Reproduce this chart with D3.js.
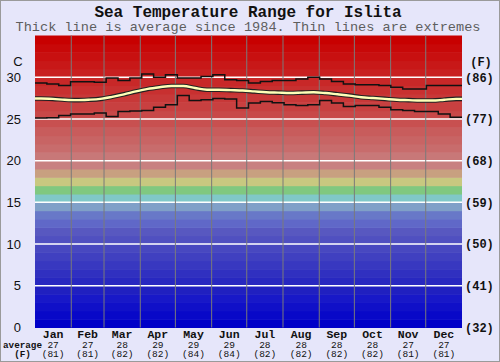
<!DOCTYPE html>
<html>
<head>
<meta charset="utf-8">
<script src="https://cdn.jsdelivr.net/npm/d3@7"></script>
<style>
  body { margin: 0; background: #e6e6fa; }
  svg { display: block; }
</style>
</head>
<body>
<div class="canvas"></div>
<script>
// chart values
const months = ["Jan", "Feb", "Mar", "Apr", "May", "Jun", "Jul", "Aug", "Sep", "Oct", "Nov", "Dec"];
const monthDays = [31, 28, 31, 30, 31, 30, 31, 31, 30, 31, 30, 31];
const avgC = ["27", "27", "28", "29", "29", "29", "28", "28", "28", "28", "27", "27"];
const avgF = ["(81)", "(81)", "(82)", "(82)", "(84)", "(84)", "(82)", "(82)", "(82)", "(82)", "(81)", "(81)"];

// three values per month (roughly 10 day periods), deg C
const maxTemp = [
    29.3, 29.2, 29.0, 29.45, 29.45, 29.4, 29.9, 29.6, 29.9, 30.4, 30.0, 30.3,
    29.9, 29.9, 30.1, 30.3, 29.7, 29.6, 29.3, 29.5, 29.6, 29.6, 29.8, 30.0,
    29.8, 29.5, 29.2, 29.1, 29.1, 29.0, 28.8, 28.6, 28.6, 29.0, 29.0, 29.0
];
const avgTemp = [
    27.45, 27.4, 27.3, 27.25, 27.3, 27.4, 27.65, 27.95, 28.3, 28.6, 28.8, 28.95,
    28.95, 28.7, 28.5, 28.5, 28.45, 28.4, 28.3, 28.2, 28.15, 28.1, 28.15, 28.2,
    28.1, 27.95, 27.8, 27.6, 27.5, 27.4, 27.3, 27.25, 27.2, 27.2, 27.3, 27.4
];
const minTemp = [
    25.1, 25.15, 25.4, 25.6, 25.6, 25.7, 25.3, 25.9, 25.95, 26.0, 26.4, 26.7,
    27.8, 27.2, 27.3, 27.45, 27.4, 26.3, 26.9, 27.1, 26.95, 26.7, 26.6, 26.7,
    27.2, 26.9, 26.5, 26.6, 26.6, 26.4, 26.1, 26.0, 25.9, 25.9, 25.6, 25.2
];

const celsiusTicks = [0, 5, 10, 15, 20, 25, 30];
const fahrenheitTicks = ["(32)", "(41)", "(50)", "(59)", "(68)", "(77)", "(86)"];

// one colour per degree band, bottom (0 C) to top (35 C)
const bandColors = [
    "#0000c8", "#0808c8", "#1010c8", "#1818c8", "#2020c0", "#2828c0", "#3030c0",
    "#3838c0", "#4040c0", "#4848c0", "#5050c0", "#5858c0", "#6068c8", "#6878c8",
    "#80a0c8", "#80c8c8", "#80c880", "#c8c880", "#c8a080", "#c88080", "#c87878",
    "#c86c6c", "#c86464", "#c85c5c", "#c85050", "#c84848", "#c84040", "#c83838",
    "#c83030", "#c82828", "#c82020", "#c81818", "#c81010", "#c80808", "#c80000"
];

const dims = { width: 500, height: 362 };
const plot = { left: 35, right: 462, top: 35.5, bottom: 327.5 };
const mono = "'Liberation Mono', 'Courier New', monospace";
const sans = "'Liberation Sans', Arial, sans-serif";

const svg = d3
    .select(".canvas")
    .append("svg")
    .attr("width", dims.width)
    .attr("height", dims.height);

svg.append("rect")
    .attr("x", 0.5).attr("y", 0.5)
    .attr("width", dims.width - 1).attr("height", dims.height - 1)
    .attr("fill", "#e6e6fa")
    .attr("stroke", "#9a9a9a");

const x = d3.scaleLinear().domain([0, 365]).range([plot.left, plot.right]);
const y = d3.scaleLinear().domain([0, 35]).range([plot.bottom, plot.top]);

// colour bands
svg.append("g")
    .selectAll("rect")
    .data(bandColors)
    .join("rect")
    .attr("x", plot.left)
    .attr("width", plot.right - plot.left)
    .attr("y", (d, i) => y(i + 1))
    .attr("height", (d, i) => y(i) - y(i + 1) + 0.5)
    .attr("fill", (d) => d);

// white gridlines every 5 C
svg.append("g")
    .selectAll("line")
    .data(celsiusTicks.slice(1))
    .join("line")
    .attr("x1", plot.left).attr("x2", plot.right)
    .attr("y1", (d) => y(d)).attr("y2", (d) => y(d))
    .attr("stroke", "#fff")
    .attr("stroke-width", 1.5);

// month separators
const monthStart = d3.cumsum([0, ...monthDays]);
svg.append("g")
    .selectAll("line")
    .data(monthStart.slice(1, 12))
    .join("line")
    .attr("x1", (d) => x(d)).attr("x2", (d) => x(d))
    .attr("y1", plot.top).attr("y2", plot.bottom)
    .attr("stroke", "#7a7a7a")
    .attr("stroke-width", 1);

// temperature lines
const step = 365 / maxTemp.length;
const stepLine = d3.line()
    .x((d) => x(d[0]))
    .y((d) => y(d[1]))
    .curve(d3.curveStepAfter);
const stepPoints = (arr) => [...arr.map((v, i) => [i * step, v]), [365, arr[arr.length - 1]]];

[maxTemp, minTemp].forEach((arr) => {
    svg.append("path")
        .attr("d", stepLine(stepPoints(arr)))
        .attr("fill", "none")
        .attr("stroke", "#111")
        .attr("stroke-width", 1.5);
});

const avgPoints = [[0, avgTemp[0]], ...avgTemp.map((v, i) => [(i + 0.5) * step, v]), [365, avgTemp[avgTemp.length - 1]]];
const smoothLine = d3.line()
    .x((d) => x(d[0]))
    .y((d) => y(d[1]))
    .curve(d3.curveMonotoneX);

svg.append("path")
    .attr("d", smoothLine(avgPoints))
    .attr("fill", "none")
    .attr("stroke", "#222")
    .attr("stroke-width", 4.6);
svg.append("path")
    .attr("d", smoothLine(avgPoints))
    .attr("fill", "none")
    .attr("stroke", "#ffffb8")
    .attr("stroke-width", 2.4);

// titles
svg.append("text")
    .attr("x", 248).attr("y", 17)
    .attr("text-anchor", "middle")
    .attr("font-family", mono)
    .attr("font-weight", "bold")
    .attr("font-size", 16)
    .attr("fill", "#111")
    .text("Sea Temperature Range for Islita");

svg.append("text")
    .attr("x", 248).attr("y", 30.5)
    .attr("text-anchor", "middle")
    .attr("font-family", mono)
    .attr("font-size", 13.6)
    .attr("fill", "#5e5e5e")
    .text("Thick line is average since 1984. Thin lines are extremes");

// left axis (C)
const leftAxis = d3.axisLeft(y).tickValues(celsiusTicks).tickSize(0).tickPadding(11);
const gl = svg.append("g").attr("transform", `translate(${plot.left - 3},0)`).call(leftAxis);
gl.select(".domain").remove();
gl.selectAll("text")
    .attr("font-family", sans)
    .attr("font-size", 13)
    .attr("fill", "#111");

svg.append("text")
    .attr("x", 18).attr("y", 66)
    .attr("text-anchor", "middle")
    .attr("font-family", sans)
    .attr("font-size", 13)
    .attr("fill", "#111")
    .text("C");

// right axis (F)
const rightAxis = d3.axisRight(y)
    .tickValues(celsiusTicks)
    .tickFormat((d, i) => fahrenheitTicks[i])
    .tickSize(0)
    .tickPadding(3);
const gr = svg.append("g").attr("transform", `translate(${plot.right},0)`).call(rightAxis);
gr.select(".domain").remove();
gr.selectAll("text")
    .attr("font-family", mono)
    .attr("font-weight", "bold")
    .attr("font-size", 12)
    .attr("fill", "#111");

svg.append("text")
    .attr("x", 481).attr("y", 66)
    .attr("text-anchor", "middle")
    .attr("font-family", mono)
    .attr("font-weight", "bold")
    .attr("font-size", 12)
    .attr("fill", "#111")
    .text("(F)");

// month labels with monthly averages
const mid = months.map((m, i) => monthStart[i] + monthDays[i] / 2);
const bottom = svg.append("g");
bottom.selectAll("text.month")
    .data(months)
    .join("text")
    .attr("class", "month")
    .attr("x", (d, i) => x(mid[i]))
    .attr("y", 338)
    .attr("text-anchor", "middle")
    .attr("font-family", mono)
    .attr("font-weight", "bold")
    .attr("font-size", 11.5)
    .attr("fill", "#111")
    .text((d) => d);

bottom.selectAll("text.avgc")
    .data(avgC)
    .join("text")
    .attr("class", "avgc")
    .attr("x", (d, i) => x(mid[i]))
    .attr("y", 347.5)
    .attr("text-anchor", "middle")
    .attr("font-family", mono)
    .attr("font-size", 9.5)
    .attr("fill", "#111")
    .text((d) => d);

bottom.selectAll("text.avgf")
    .data(avgF)
    .join("text")
    .attr("class", "avgf")
    .attr("x", (d, i) => x(mid[i]))
    .attr("y", 356.5)
    .attr("text-anchor", "middle")
    .attr("font-family", mono)
    .attr("font-size", 9.5)
    .attr("fill", "#111")
    .text((d) => d);

svg.append("text")
    .attr("x", 22.5).attr("y", 347.5)
    .attr("text-anchor", "middle")
    .attr("font-family", mono)
    .attr("font-weight", "bold")
    .attr("font-size", 9.3)
    .attr("fill", "#111")
    .text("average");

svg.append("text")
    .attr("x", 22.5).attr("y", 356.5)
    .attr("text-anchor", "middle")
    .attr("font-family", mono)
    .attr("font-weight", "bold")
    .attr("font-size", 9.3)
    .attr("fill", "#111")
    .text("(F)");
</script>
</body>
</html>
